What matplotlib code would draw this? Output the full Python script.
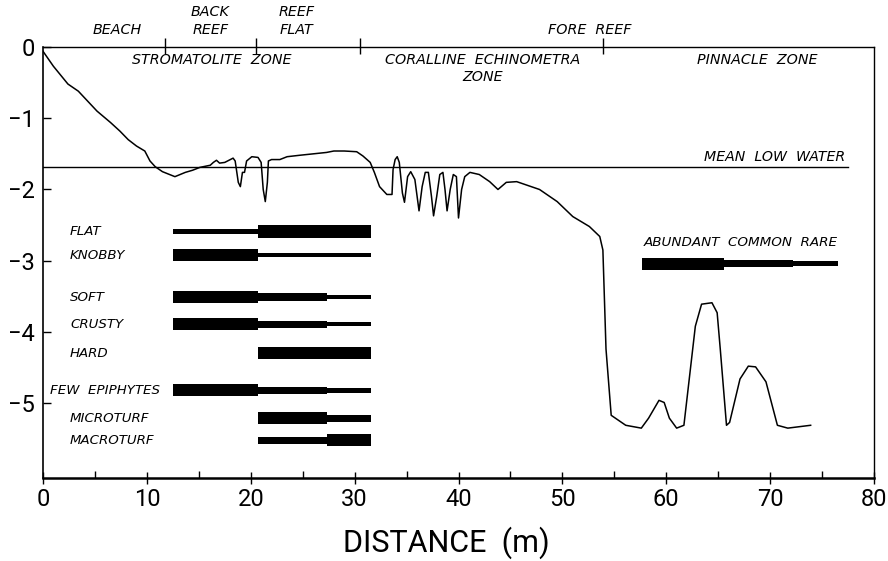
import matplotlib
matplotlib.use("Agg")
import matplotlib.pyplot as plt
import numpy as np

# depth profile along the transect (m)
profile_x = [0.0, 1.0, 2.4, 3.4, 5.2, 6.5, 7.4, 8.2, 9.0, 9.8, 10.3, 10.8, 11.5,
             12.7, 13.7, 14.4, 15.1, 16.1, 16.4, 16.7, 17.0, 17.5, 18.3, 18.5,
             18.8, 19.0, 19.2, 19.4, 19.6, 20.1, 20.7, 21.0, 21.2, 21.4, 21.6,
             21.7, 22.0, 22.8, 23.5, 24.7, 26.0, 27.3, 28.0, 29.0, 30.2, 30.8,
             31.5, 31.9, 32.4, 33.1, 33.6, 33.7, 33.9, 34.1, 34.3, 34.6, 34.8,
             35.1, 35.4, 35.8, 36.2, 36.5, 36.8, 37.1, 37.4, 37.6, 37.9, 38.2,
             38.5, 38.7, 38.9, 39.2, 39.5, 39.8, 40.0, 40.3, 40.6, 41.1, 42.0,
             43.0, 43.8, 44.6, 45.6, 47.8, 49.5, 51.0, 52.6, 53.6, 53.9, 54.2,
             54.7, 56.1, 57.6, 58.3, 59.3, 59.8, 60.3, 61.0, 61.7, 62.8, 63.4,
             64.4, 64.9, 65.2, 65.8, 66.1, 67.1, 67.9, 68.6, 69.6, 70.7, 71.7,
             73.9]
profile_y = [-0.06, -0.27, -0.52, -0.62, -0.90, -1.06, -1.18, -1.30, -1.39,
             -1.46, -1.60, -1.68, -1.75, -1.82, -1.76, -1.73, -1.69, -1.66,
             -1.62, -1.59, -1.63, -1.62, -1.56, -1.60, -1.90, -1.96, -1.76,
             -1.76, -1.60, -1.54, -1.55, -1.62, -2.00, -2.17, -1.90, -1.60,
             -1.58, -1.58, -1.54, -1.52, -1.50, -1.48, -1.46, -1.46, -1.47,
             -1.53, -1.62, -1.76, -1.96, -2.07, -2.07, -1.72, -1.58, -1.54,
             -1.62, -2.05, -2.18, -1.82, -1.75, -1.86, -2.30, -1.96, -1.76,
             -1.76, -2.10, -2.37, -2.10, -1.79, -1.76, -2.00, -2.30, -2.00,
             -1.79, -1.82, -2.40, -2.00, -1.82, -1.76, -1.79, -1.89, -2.00,
             -1.90, -1.89, -2.00, -2.17, -2.38, -2.52, -2.66, -2.85, -4.24,
             -5.17, -5.31, -5.35, -5.21, -4.96, -4.99, -5.21, -5.35, -5.31,
             -3.92, -3.61, -3.59, -3.73, -4.24, -5.31, -5.27, -4.66, -4.48,
             -4.49, -4.70, -5.31, -5.35, -5.31]

mean_low_water = -1.68

# substrate / biota abundance bars
row_names = ["FLAT", "KNOBBY", "SOFT", "CRUSTY", "HARD", "FEW  EPIPHYTES",
             "MICROTURF", "MACROTURF"]
row_depth = [-2.59, -2.92, -3.51, -3.89, -4.30, -4.82, -5.21, -5.52]
seg_edges = [12.5, 20.7, 27.3, 31.6]
abundance = [["R", "A", "A"], ["A", "R", "R"], ["A", "C", "R"], ["A", "C", "R"],
             ["", "A", "A"], ["A", "C", "R"], ["", "A", "C"], ["", "C", "A"]]
thick = {"A": 0.17, "C": 0.10, "R": 0.06}

legend_edges = [57.7, 65.6, 72.2, 76.5]
legend_levels = ["A", "C", "R"]
legend_depth = -3.04

zone_bounds = [11.7, 20.5, 30.5, 53.9]
top_labels = ["BEACH", "BACK\nREEF", "REEF\nFLAT", "FORE  REEF"]
top_label_x = [7.1, 16.1, 24.4, 52.6]
zone_labels = ["STROMATOLITE  ZONE", "CORALLINE  ECHINOMETRA\nZONE", "PINNACLE  ZONE"]
zone_label_x = [16.2, 42.3, 68.8]

num_font = ["Roboto", "DejaVu Sans"]
lab_font = ["DejaVu Sans"]

fig = plt.figure(figsize=(8.88, 5.61), dpi=100)
ax = fig.add_axes([43 / 888, 1 - 478 / 561, (874 - 43) / 888, (478 - 47) / 561])

ax.plot(profile_x, profile_y, color="black", lw=1.1)
ax.plot([0, 77.5], [mean_low_water, mean_low_water], color="black", lw=1.0)
ax.text(77.2, mean_low_water + 0.04, "MEAN  LOW  WATER", ha="right", va="bottom",
        fontsize=10.2, style="italic", family=lab_font)

for name, d, levels in zip(row_names, row_depth, abundance):
    for i, lev in enumerate(levels):
        if lev:
            ax.barh(d, seg_edges[i + 1] - seg_edges[i], left=seg_edges[i],
                    height=thick[lev], color="black", edgecolor="none")
    lx = 0.7 if len(name) > 10 else 2.6
    ax.text(lx, d, name, ha="left", va="center", fontsize=9.6,
            style="italic", family=lab_font)

for i, lev in enumerate(legend_levels):
    ax.barh(legend_depth, legend_edges[i + 1] - legend_edges[i], left=legend_edges[i],
            height=thick[lev], color="black", edgecolor="none")
ax.text(legend_edges[0] + 0.1, legend_depth + 0.2, "ABUNDANT  COMMON  RARE",
        ha="left", va="bottom", fontsize=9.7, style="italic", family=lab_font)

for x, t in zip(top_label_x, top_labels):
    ax.text(x, 0.14, t, ha="center", va="bottom", fontsize=10.3, style="italic",
            family=lab_font, linespacing=1.4, clip_on=False)
for x, t in zip(zone_label_x, zone_labels):
    ax.text(x, -0.08, t, ha="center", va="top", fontsize=10.3, style="italic",
            family=lab_font, linespacing=1.3)
ax.vlines(zone_bounds, -0.1, 0.12, color="black", lw=1.0, clip_on=False)

ax.set_xlim(0, 80)
ax.set_ylim(-6.05, 0)
ax.set_xticks(np.arange(0, 81, 10))
ax.set_xticks(np.arange(5, 80, 10), minor=True)
ax.set_yticks([0, -1, -2, -3, -4, -5])
ax.tick_params(axis="x", which="major", direction="inout", length=9, width=1.0,
               labelsize=17, pad=3)
ax.tick_params(axis="x", which="minor", direction="in", length=5, width=1.0)
ax.tick_params(axis="y", which="major", direction="in", length=6, width=1.0,
               labelsize=17, pad=6)
for lab in ax.get_xticklabels() + ax.get_yticklabels():
    lab.set_family(num_font)

ax.spines["bottom"].set_linewidth(1.8)
ax.spines["left"].set_linewidth(1.2)
ax.spines["top"].set_linewidth(1.0)
ax.spines["right"].set_linewidth(1.0)

ax.set_xlabel("DISTANCE  (m)", fontsize=22, family=num_font)
ax.xaxis.set_label_coords(0.485, -0.112)

fig.savefig("out.png", dpi=100)
